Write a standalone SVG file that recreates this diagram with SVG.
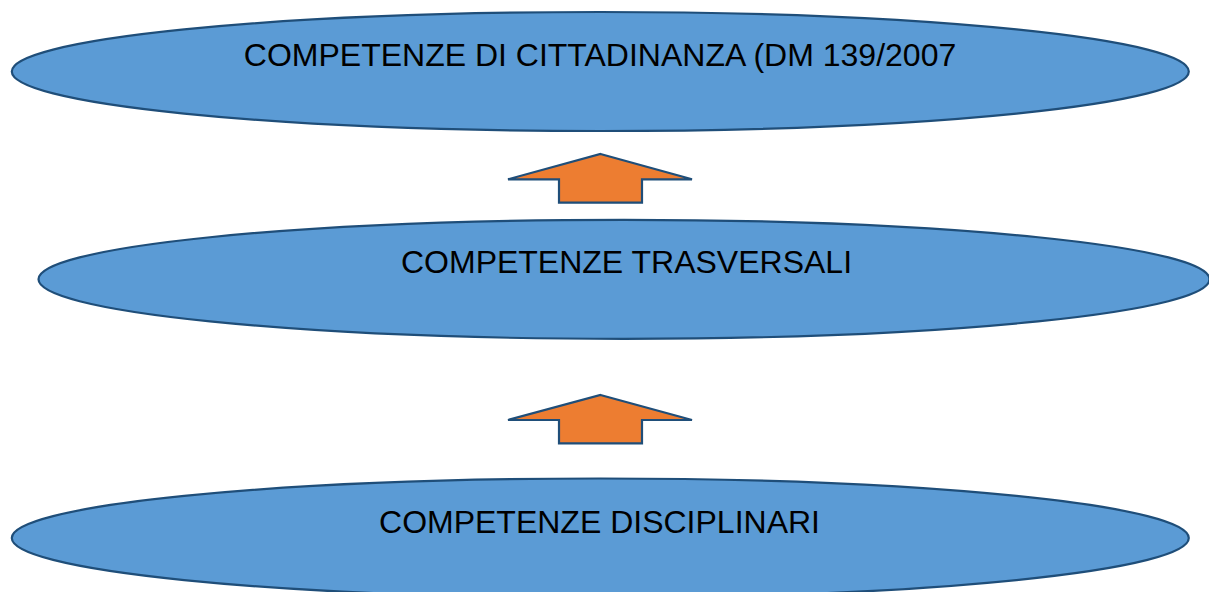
<svg xmlns="http://www.w3.org/2000/svg" width="1209" height="592" viewBox="0 0 1209 592">
<style>
.node ellipse{fill:#5B9BD5;stroke:#1F4E79;stroke-width:2.2}
.node text{font-family:"Liberation Sans",Arial,sans-serif;font-size:32px;fill:#000;text-anchor:middle}
.arrow{fill:#ED7D31;stroke:#1F4E79;stroke-width:2.2;stroke-linejoin:miter}
</style>
<rect width="1209" height="592" fill="#fff"/>
<g id="cittadinanza" class="node">
<ellipse cx="600.3" cy="71.5" rx="588.5" ry="59.5"/>
<text x="600" y="65.7">COMPETENZE DI CITTADINANZA (DM 139/2007</text>
</g>
<g id="trasversali" class="node">
<ellipse cx="624" cy="279.3" rx="585.5" ry="59.5"/>
<text x="626.5" y="273.3">COMPETENZE TRASVERSALI</text>
</g>
<g id="disciplinari" class="node">
<ellipse cx="600.3" cy="538" rx="588.5" ry="59.5"/>
<text x="599.5" y="533.3">COMPETENZE DISCIPLINARI</text>
</g>
<g id="connectors">
<polygon class="arrow" points="600.5,154 692,179.3 642,179.3 642,202.7 559,202.7 559,179.3 508,179.3"/>
<polygon class="arrow" points="600.5,395 692,420 642,420 642,443.3 559,443.3 559,420 508,420"/>
</g>
</svg>
